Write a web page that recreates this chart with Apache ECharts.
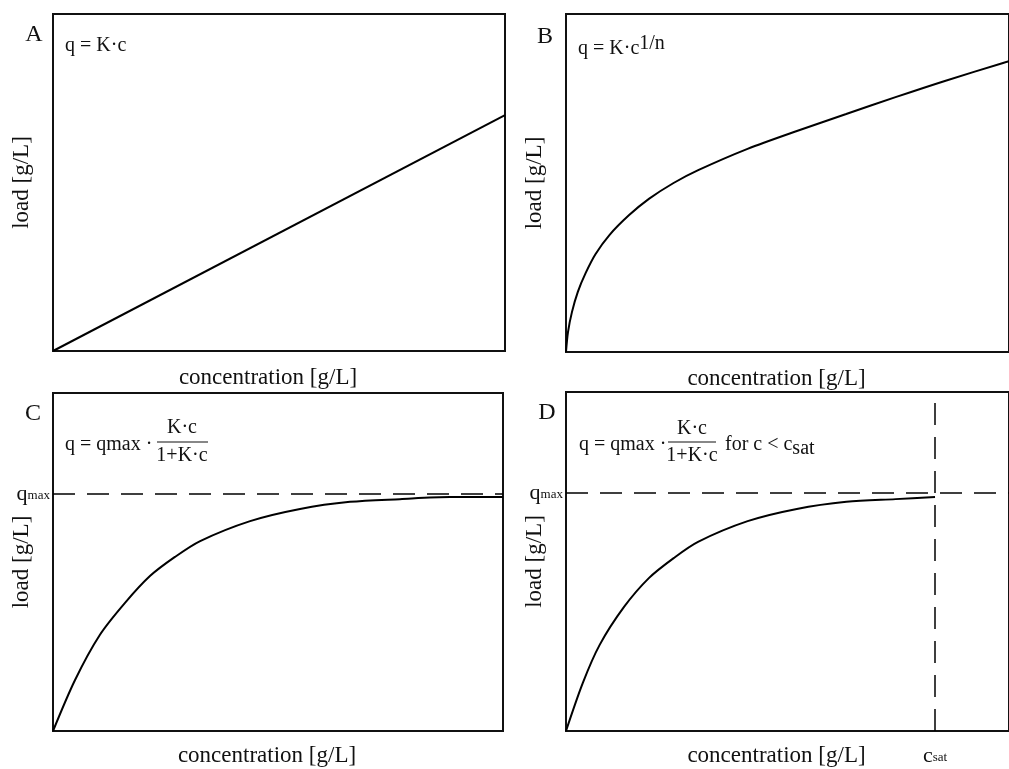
<!DOCTYPE html>
<html>
<head>
    <meta charset="utf-8">
    <script src="https://cdn.jsdelivr.net/npm/echarts@6/dist/echarts.min.js"></script>
    <style>
        html, body { margin: 0; padding: 0; background: #fff; }
        #main { width: 1009px; height: 769px; }
    </style>
</head>
<body>
    <div id="main"></div>
    <script type="text/javascript">
        // concentration in % of box width, load in % of box height
        var concA = [0, 100];
        var loadA = [0, 70];

        var concB = [0, 0.45, 1.34, 2.67, 4.45, 6.68, 9.8, 14.25, 18.71, 24.28, 29.84, 40.98, 52.12, 63.25, 74.39, 85.52, 98.66, 100];
        var loadB = [0, 5.9, 11.8, 17.8, 23.4, 29.0, 34.6, 40.5, 45.3, 50.0, 53.8, 60.1, 65.4, 70.4, 75.4, 80.2, 85.5, 86.0];

        var concC = [0, 4.9, 10.4, 16.0, 21.6, 27.1, 32.7, 43.8, 54.9, 66.0, 77.1, 88.2, 100];
        var loadC = [0, 15.1, 28.4, 37.9, 45.9, 51.5, 56.2, 62.1, 65.7, 67.8, 68.6, 69.2, 69.2];
        var qmaxC = 70.1;

        var concD = [0, 3.8, 7.6, 13.1, 18.7, 24.3, 29.8, 41.0, 52.1, 63.3, 74.4, 83.3];
        var loadD = [0, 14.2, 25.4, 36.6, 45.1, 51.0, 55.8, 61.9, 65.5, 67.6, 68.4, 69.0];
        var qmaxD = 70.2;
        var csatD = 83.3;

        var xName = 'concentration [g/L]';
        var yName = 'load [g/L]';
        var FONT = 'Liberation Serif';

        function pairs(xs, ys) {
            var out = [];
            for (var i = 0; i < xs.length; i++) out.push([xs[i], ys[i]]);
            return out;
        }

        var grids = [
            { left: 53, top: 14, width: 452, height: 337 },
            { left: 566, top: 14, width: 449, height: 338 },
            { left: 53, top: 393, width: 450, height: 338 },
            { left: 566, top: 392, width: 449, height: 339 }
        ];
        var xGaps = [15, 15, 13, 13];

        var xAxes = [], yAxes = [];
        for (var i = 0; i < 4; i++) {
            grids[i].show = true;
            grids[i].borderColor = '#111';
            grids[i].borderWidth = 2;
            xAxes.push({
                type: 'value', gridIndex: i, min: 0, max: 100,
                axisLine: { show: false }, axisTick: { show: false },
                axisLabel: { show: false }, splitLine: { show: false },
                name: xName, nameLocation: 'middle', nameGap: xGaps[i],
                nameTextStyle: { fontFamily: FONT, fontSize: 23, color: '#111', padding: [0, 22, 0, 0] }
            });
            yAxes.push({
                type: 'value', gridIndex: i, min: 0, max: 100,
                axisLine: { show: false }, axisTick: { show: false },
                axisLabel: { show: false }, splitLine: { show: false },
                name: yName, nameLocation: 'middle', nameGap: 20,
                nameTextStyle: { fontFamily: FONT, fontSize: 23, color: '#111' }
            });
        }

        var dash = [22, 12];
        var qmaxLabel = {
            show: true, position: 'start', distance: 3,
            formatter: '{q|q}{m|max}',
            rich: {
                q: { fontFamily: FONT, fontSize: 22, color: '#111' },
                m: { fontFamily: FONT, fontSize: 13, color: '#111', padding: [4, 0, 0, 0] }
            }
        };

        function curve(idx, xs, ys) {
            return {
                type: 'line', xAxisIndex: idx, yAxisIndex: idx,
                data: pairs(xs, ys), showSymbol: false,
                smooth: 0.3,
                lineStyle: { color: '#000', width: 2 },
                silent: true
            };
        }

        var sC = curve(2, concC, loadC);
        sC.markLine = {
            symbol: 'none', silent: true, animation: false,
            lineStyle: { color: '#000', width: 1.5, type: dash },
            label: qmaxLabel,
            data: [{ yAxis: qmaxC }]
        };
        var sD = curve(3, concD, loadD);
        sD.markLine = {
            symbol: 'none', silent: true, animation: false,
            lineStyle: { color: '#000', width: 1.5, type: dash },
            data: [
                { yAxis: qmaxD, label: qmaxLabel },
                {
                    xAxis: csatD,
                    label: {
                        show: true, position: 'start', distance: 14,
                        formatter: '{c|c}{s|sat}',
                        rich: {
                            c: { fontFamily: FONT, fontSize: 22, color: '#111' },
                            s: { fontFamily: FONT, fontSize: 13, color: '#111', padding: [4, 0, 0, 0] }
                        }
                    }
                }
            ]
        };

        function t(x, y, text, extra) {
            var st = { text: text, fontFamily: FONT, fontSize: 20, fill: '#111', textVerticalAlign: 'middle' };
            for (var k in extra) st[k] = extra[k];
            return { type: 'text', x: x, y: y, style: st, silent: true };
        }
        function bar(x1, x2, y) {
            return { type: 'line', shape: { x1: x1, y1: y, x2: x2, y2: y }, style: { stroke: '#111', lineWidth: 1.2 }, silent: true };
        }

        var graphics = [
            t(34, 35, 'A', { fontSize: 24, textAlign: 'center' }),
            t(545, 37, 'B', { fontSize: 24, textAlign: 'center' }),
            t(33, 414, 'C', { fontSize: 24, textAlign: 'center' }),
            t(547, 413, 'D', { fontSize: 24, textAlign: 'center' }),
            t(65, 46, 'q = K·c'),
            t(578, 49, '{a|q = K·c}{s|1/n}', {
                rich: {
                    a: { fontFamily: FONT, fontSize: 20, fill: '#111' },
                    s: { fontFamily: FONT, fontSize: 20, fill: '#111', padding: [0, 0, 10, 0] }
                }
            }),
            t(65, 445, 'q = qmax ·'),
            t(182, 428, 'K·c', { textAlign: 'center' }),
            bar(157, 208, 442),
            t(182, 456, '1+K·c', { textAlign: 'center' }),
            t(579, 445, 'q = qmax ·'),
            t(692, 429, 'K·c', { textAlign: 'center' }),
            bar(668, 716, 442),
            t(692, 456, '1+K·c', { textAlign: 'center' }),
            t(725, 445, '{a|for c < c}{s|sat}', {
                rich: {
                    a: { fontFamily: FONT, fontSize: 20, fill: '#111' },
                    s: { fontFamily: FONT, fontSize: 20, fill: '#111', padding: [8, 0, 0, 0] }
                }
            })
        ];

        var chart = echarts.init(document.getElementById('main'));
        chart.setOption({
            animation: false,
            backgroundColor: '#fff',
            grid: grids,
            xAxis: xAxes,
            yAxis: yAxes,
            graphic: graphics,
            series: [curve(0, concA, loadA), curve(1, concB, loadB), sC, sD]
        });
    </script>
</body>
</html>
